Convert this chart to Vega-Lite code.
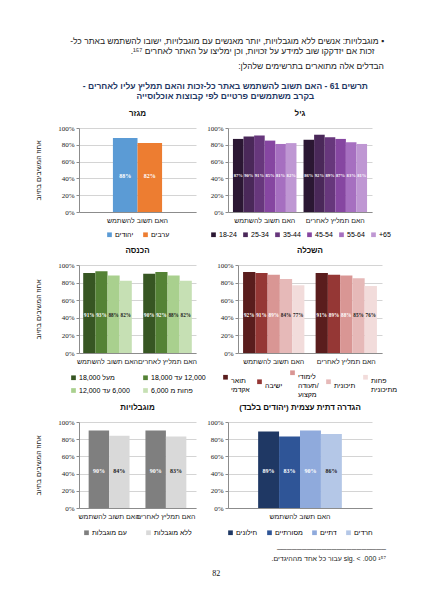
{
  "$schema": "https://vega.github.io/schema/vega-lite/v6.json",
  "background": "white",
  "padding": {"top": 37, "left": 34, "right": 8, "bottom": 8},
  "title": {
    "text": [
      "\u202b▪  מוגבלויות: אנשים ללא מוגבלויות, יותר מאנשים עם מוגבלויות, ישובו להשתמש באתר כל-\u202c",
      "\u202b\u00a0\u00a0\u00a0\u00a0זכות אם יזדקקו שוב למידע על זכויות, וכן ימליצו על האתר לאחרים ¹⁵⁷.\u202c"
    ],
    "subtitle": "\u202bהבדלים אלה מתוארים בתרשימים שלהלן:\u202c",
    "anchor": "end",
    "dx": -14,
    "fontSize": 8.5,
    "fontWeight": "normal",
    "lineHeight": 10,
    "color": "#222",
    "subtitleFontSize": 8.5,
    "subtitleColor": "#222",
    "subtitlePadding": 6,
    "offset": 12
  },
  "resolve": {"scale": {"color": "independent", "x": "independent", "xOffset": "independent", "y": "independent"}, "legend": {"color": "independent"}},
  "vconcat": [
    {
      "title": {"text": "82", "orient": "bottom", "anchor": "middle", "fontSize": 8, "fontWeight": "normal", "font": "Liberation Serif", "offset": 8},
      "resolve": {"scale": {"color": "independent", "x": "independent", "xOffset": "independent", "y": "independent"}, "legend": {"color": "independent"}},
      "vconcat": [
        {
          "title": {
            "text": ["──────────────────────", "\u202b¹⁵⁷ \u202asig. < .000\u202c עבור כל אחד מההיגדים.\u202c"],
            "orient": "bottom",
            "anchor": "end",
            "dx": -12,
            "fontSize": 7,
            "fontWeight": "normal",
            "lineHeight": 9,
            "color": "#222",
            "offset": 10
          },
          "resolve": {"scale": {"color": "independent", "x": "independent", "xOffset": "independent", "y": "independent"}, "legend": {"color": "independent"}},
          "vconcat": [
            {
              "title": {
                "text": [
                  "\u202bתרשים 61 - האם תשוב להשתמש באתר כל-זכות והאם תמליץ עליו לאחרים -\u202c",
                  "בקרב משתמשים פרטיים לפי קבוצות אוכלוסייה"
                ],
                "anchor": "middle",
                "dx": 9,
                "fontSize": 8.5,
                "fontWeight": "bold",
                "lineHeight": 9.5,
                "color": "#1f3864",
                "offset": 10
              },
              "spacing": 9,
              "resolve": {"scale": {"color": "independent", "x": "independent", "xOffset": "independent", "y": "independent"}, "legend": {"color": "independent"}},
              "vconcat": [
                {
                  "resolve": {"scale": {"color": "independent", "x": "independent", "xOffset": "independent", "y": "independent"}, "legend": {"color": "independent"}},
                  "hconcat": [
                    {
                      "title": "מגזר",
                      "width": 117,
                      "height": 84,
                      "data": {"values": [
                        {"q": "האם תשוב להשתמש", "g": "יהודים", "v": 0.88},
                        {"q": "האם תשוב להשתמש", "g": "ערבים", "v": 0.82}
                      ]},
                      "encoding": {
                        "x": {"field": "q", "type": "nominal", "sort": null, "title": null, "scale": {"paddingInner": 0, "paddingOuter": 0.69}},
                        "xOffset": {"field": "g", "type": "nominal", "sort": null, "scale": {"padding": 0}}
                      },
                      "layer": [
                        {"mark": "bar", "encoding": {
                          "y": {"field": "v", "type": "quantitative", "scale": {"domain": [0, 1]}, "title": "אחוז המשיבים בחיוב", "axis": {"titlePadding": 16}},
                          "color": {"field": "g", "type": "nominal", "sort": null, "scale": {"range": ["#5b9bd5", "#ed7d31"]}, "legend": {"columnPadding": 8, "offset": 8}}
                        }},
                        {"mark": {"type": "text", "fontSize": 6}, "encoding": {
                          "y": {"datum": 0.43, "type": "quantitative", "title": "אחוז המשיבים בחיוב"},
                          "text": {"field": "v", "format": ".0%"},
                          "color": {"value": "white"}
                        }}
                      ]
                    },
                    {
                      "title": "גיל",
                      "width": 144,
                      "height": 84,
                      "data": {"values": [
                        {"q": "האם תשוב להשתמש", "g": "18-24", "v": 0.87},
                        {"q": "האם תשוב להשתמש", "g": "25-34", "v": 0.90},
                        {"q": "האם תשוב להשתמש", "g": "35-44", "v": 0.91},
                        {"q": "האם תשוב להשתמש", "g": "45-54", "v": 0.85},
                        {"q": "האם תשוב להשתמש", "g": "55-64", "v": 0.81},
                        {"q": "האם תשוב להשתמש", "g": "+65", "v": 0.82},
                        {"q": "האם תמליץ לאחרים", "g": "18-24", "v": 0.86},
                        {"q": "האם תמליץ לאחרים", "g": "25-34", "v": 0.92},
                        {"q": "האם תמליץ לאחרים", "g": "35-44", "v": 0.89},
                        {"q": "האם תמליץ לאחרים", "g": "45-54", "v": 0.87},
                        {"q": "האם תמליץ לאחרים", "g": "55-64", "v": 0.83},
                        {"q": "האם תמליץ לאחרים", "g": "+65", "v": 0.81}
                      ]},
                      "encoding": {
                        "x": {"field": "q", "type": "nominal", "sort": null, "title": null, "scale": {"paddingInner": 0.1, "paddingOuter": 0.07}},
                        "xOffset": {"field": "g", "type": "nominal", "sort": null, "scale": {"padding": 0}}
                      },
                      "layer": [
                        {"mark": "bar", "encoding": {
                          "y": {"field": "v", "type": "quantitative", "scale": {"domain": [0, 1]}, "title": null},
                          "color": {"field": "g", "type": "nominal", "sort": null, "scale": {"range": ["#2b1733", "#4a2859", "#67377c", "#8646a1", "#a66fc0", "#bf97d3"]}, "legend": {"columnPadding": 5, "offset": 8}}
                        }},
                        {"mark": {"type": "text", "fontSize": 4.6}, "encoding": {
                          "y": {"datum": 0.43, "type": "quantitative", "title": null},
                          "text": {"field": "v", "format": ".0%"},
                          "color": {"value": "white"}
                        }}
                      ]
                    }
                  ]
                },
                {
                  "spacing": 6,
                  "resolve": {"scale": {"color": "independent", "x": "independent", "xOffset": "independent", "y": "independent"}, "legend": {"color": "independent"}},
                  "vconcat": [
                    {
                      "resolve": {"scale": {"color": "independent", "x": "independent", "xOffset": "independent", "y": "independent"}, "legend": {"color": "independent"}},
                      "hconcat": [
                        {
                          "title": "הכנסה",
                          "width": 117,
                          "height": 88,
                          "data": {"values": [
                            {"q": "האם תשוב להשתמש", "g": "מעל 18,000", "v": 0.91},
                            {"q": "האם תשוב להשתמש", "g": "12,000 עד 18,000", "v": 0.93},
                            {"q": "האם תשוב להשתמש", "g": "6,000 עד 12,000", "v": 0.88},
                            {"q": "האם תשוב להשתמש", "g": "פחות מ 6,000", "v": 0.82},
                            {"q": "האם תמליץ לאחרים", "g": "מעל 18,000", "v": 0.90},
                            {"q": "האם תמליץ לאחרים", "g": "12,000 עד 18,000", "v": 0.92},
                            {"q": "האם תמליץ לאחרים", "g": "6,000 עד 12,000", "v": 0.88},
                            {"q": "האם תמליץ לאחרים", "g": "פחות מ 6,000", "v": 0.82}
                          ]},
                          "encoding": {
                            "x": {"field": "q", "type": "nominal", "sort": null, "title": null, "scale": {"paddingInner": 0.19, "paddingOuter": 0.07}},
                            "xOffset": {"field": "g", "type": "nominal", "sort": null, "scale": {"padding": 0}}
                          },
                          "layer": [
                            {"mark": "bar", "encoding": {
                              "y": {"field": "v", "type": "quantitative", "scale": {"domain": [0, 1]}, "title": "אחוז המשיבים בחיוב", "axis": {"titlePadding": 16}},
                              "color": {"field": "g", "type": "nominal", "sort": null, "scale": {"range": ["#375623", "#548235", "#a9d08e", "#c6e0b4"]}, "legend": {"columns": 2, "columnPadding": 12, "rowPadding": 5, "offset": 10, "labelExpr": "'\u202b' + datum.label + '\u202c'"}}
                            }},
                            {"mark": {"type": "text", "fontSize": 5.2}, "encoding": {
                              "y": {"datum": 0.43, "type": "quantitative", "title": "אחוז המשיבים בחיוב"},
                              "text": {"field": "v", "format": ".0%"},
                              "color": {"condition": {"test": "datum.g === 'מעל 18,000' || datum.g === '12,000 עד 18,000'", "value": "white"}, "value": "#222"}
                            }}
                          ]
                        },
                        {
                          "title": "השכלה",
                          "width": 144,
                          "height": 88,
                          "data": {"values": [
                            {"q": "האם תשוב להשתמש", "g": "תואר אקדמי", "v": 0.92},
                            {"q": "האם תשוב להשתמש", "g": "ישיבה", "v": 0.91},
                            {"q": "האם תשוב להשתמש", "g": "לימודי תעודה/ מקצוע", "v": 0.89},
                            {"q": "האם תשוב להשתמש", "g": "תיכונית", "v": 0.84},
                            {"q": "האם תשוב להשתמש", "g": "פחות מתיכונית", "v": 0.77},
                            {"q": "האם תמליץ לאחרים", "g": "תואר אקדמי", "v": 0.91},
                            {"q": "האם תמליץ לאחרים", "g": "ישיבה", "v": 0.89},
                            {"q": "האם תמליץ לאחרים", "g": "לימודי תעודה/ מקצוע", "v": 0.88},
                            {"q": "האם תמליץ לאחרים", "g": "תיכונית", "v": 0.85},
                            {"q": "האם תמליץ לאחרים", "g": "פחות מתיכונית", "v": 0.76}
                          ]},
                          "encoding": {
                            "x": {"field": "q", "type": "nominal", "sort": null, "title": null, "scale": {"paddingInner": 0.155, "paddingOuter": 0.07}},
                            "xOffset": {"field": "g", "type": "nominal", "sort": null, "scale": {"padding": 0}}
                          },
                          "layer": [
                            {"mark": "bar", "encoding": {
                              "y": {"field": "v", "type": "quantitative", "scale": {"domain": [0, 1]}, "title": null},
                              "color": {"field": "g", "type": "nominal", "sort": null, "scale": {"range": ["#5a1d1d", "#953735", "#d99694", "#e6b9b8", "#f2dcdb"]}, "legend": {"columnPadding": 6, "offset": 5, "labelBaseline": "top", "labelExpr": "split(datum.label, ' ')"}}
                            }},
                            {"mark": {"type": "text", "fontSize": 5.2}, "encoding": {
                              "y": {"datum": 0.43, "type": "quantitative", "title": null},
                              "text": {"field": "v", "format": ".0%"},
                              "color": {"condition": {"test": "datum.g === 'תיכונית' || datum.g === 'פחות מתיכונית'", "value": "#222"}, "value": "white"}
                            }}
                          ]
                        }
                      ]
                    },
                    {
                      "resolve": {"scale": {"color": "independent", "x": "independent", "xOffset": "independent", "y": "independent"}, "legend": {"color": "independent"}},
                      "hconcat": [
                        {
                          "title": "מוגבלויות",
                          "width": 117,
                          "height": 86,
                          "data": {"values": [
                            {"q": "האם תשוב להשתמש", "g": "עם מוגבלות", "v": 0.90},
                            {"q": "האם תשוב להשתמש", "g": "ללא מוגבלות", "v": 0.84},
                            {"q": "האם תמליץ לאחרים", "g": "עם מוגבלות", "v": 0.90},
                            {"q": "האם תמליץ לאחרים", "g": "ללא מוגבלות", "v": 0.83}
                          ]},
                          "encoding": {
                            "x": {"field": "q", "type": "nominal", "sort": null, "title": null, "scale": {"paddingInner": 0.28, "paddingOuter": 0.17}},
                            "xOffset": {"field": "g", "type": "nominal", "sort": null, "scale": {"padding": 0}}
                          },
                          "layer": [
                            {"mark": "bar", "encoding": {
                              "y": {"field": "v", "type": "quantitative", "scale": {"domain": [0, 1]}, "title": "אחוז המשיבים בחיוב", "axis": {"titlePadding": 16}},
                              "color": {"field": "g", "type": "nominal", "sort": null, "scale": {"range": ["#7f7f7f", "#d9d9d9"]}, "legend": {"columnPadding": 18, "offset": 10}}
                            }},
                            {"mark": {"type": "text", "fontSize": 6}, "encoding": {
                              "y": {"datum": 0.43, "type": "quantitative", "title": "אחוז המשיבים בחיוב"},
                              "text": {"field": "v", "format": ".0%"},
                              "color": {"condition": {"test": "datum.g === 'עם מוגבלות'", "value": "white"}, "value": "#222"}
                            }}
                          ]
                        },
                        {
                          "title": "\u202bהגדרה דתית עצמית (יהודים בלבד)\u202c",
                          "width": 144,
                          "height": 86,
                          "data": {"values": [
                            {"q": "האם תשוב להשתמש", "g": "חילונים", "v": 0.89},
                            {"q": "האם תשוב להשתמש", "g": "מסורתיים", "v": 0.83},
                            {"q": "האם תשוב להשתמש", "g": "דתיים", "v": 0.90},
                            {"q": "האם תשוב להשתמש", "g": "חרדים", "v": 0.86}
                          ]},
                          "encoding": {
                            "x": {"field": "q", "type": "nominal", "sort": null, "title": null, "scale": {"paddingInner": 0, "paddingOuter": 0.36}},
                            "xOffset": {"field": "g", "type": "nominal", "sort": null, "scale": {"padding": 0}}
                          },
                          "layer": [
                            {"mark": "bar", "encoding": {
                              "y": {"field": "v", "type": "quantitative", "scale": {"domain": [0, 1]}, "title": null},
                              "color": {"field": "g", "type": "nominal", "sort": null, "scale": {"range": ["#1f3864", "#2f5597", "#8faadc", "#b4c7e7"]}, "legend": {"columnPadding": 8, "offset": 10}}
                            }},
                            {"mark": {"type": "text", "fontSize": 6}, "encoding": {
                              "y": {"datum": 0.43, "type": "quantitative", "title": null},
                              "text": {"field": "v", "format": ".0%"},
                              "color": {"condition": {"test": "datum.g === 'חרדים'", "value": "#222"}, "value": "white"}
                            }}
                          ]
                        }
                      ]
                    }
                  ]
                }
              ]
            }
          ]
        }
      ]
    }
  ],
  "config": {
    "font": "Liberation Sans",
    "view": {"stroke": null},
    "concat": {"spacing": 10},
    "axis": {
      "labelFontSize": 7,
      "labelColor": "#222",
      "domainColor": "#8c8c8c",
      "tickColor": "#8c8c8c",
      "gridColor": "#d4d4d4",
      "titleFontWeight": "normal",
      "titleFontSize": 7,
      "titleColor": "#222"
    },
    "axisX": {"labelAngle": 0, "ticks": false, "labelPadding": 4, "labelFontSize": 7, "labelOverlap": false},
    "axisY": {"labelFont": "Liberation Serif", "format": ".0%", "tickCount": 5, "tickSize": 3, "labelPadding": 2},
    "legend": {
      "orient": "bottom",
      "direction": "horizontal",
      "title": null,
      "symbolType": "square",
      "symbolSize": 22,
      "symbolStrokeWidth": 0,
      "labelFontSize": 7,
      "labelOffset": 2,
      "offset": 10,
      "layout": {"bottom": {"anchor": "middle", "bounds": "flush"}}
    },
    "title": {"fontSize": 8, "fontWeight": "bold", "color": "#111", "offset": 6},
    "text": {"font": "Liberation Serif", "fontWeight": "bold"}
  }
}
